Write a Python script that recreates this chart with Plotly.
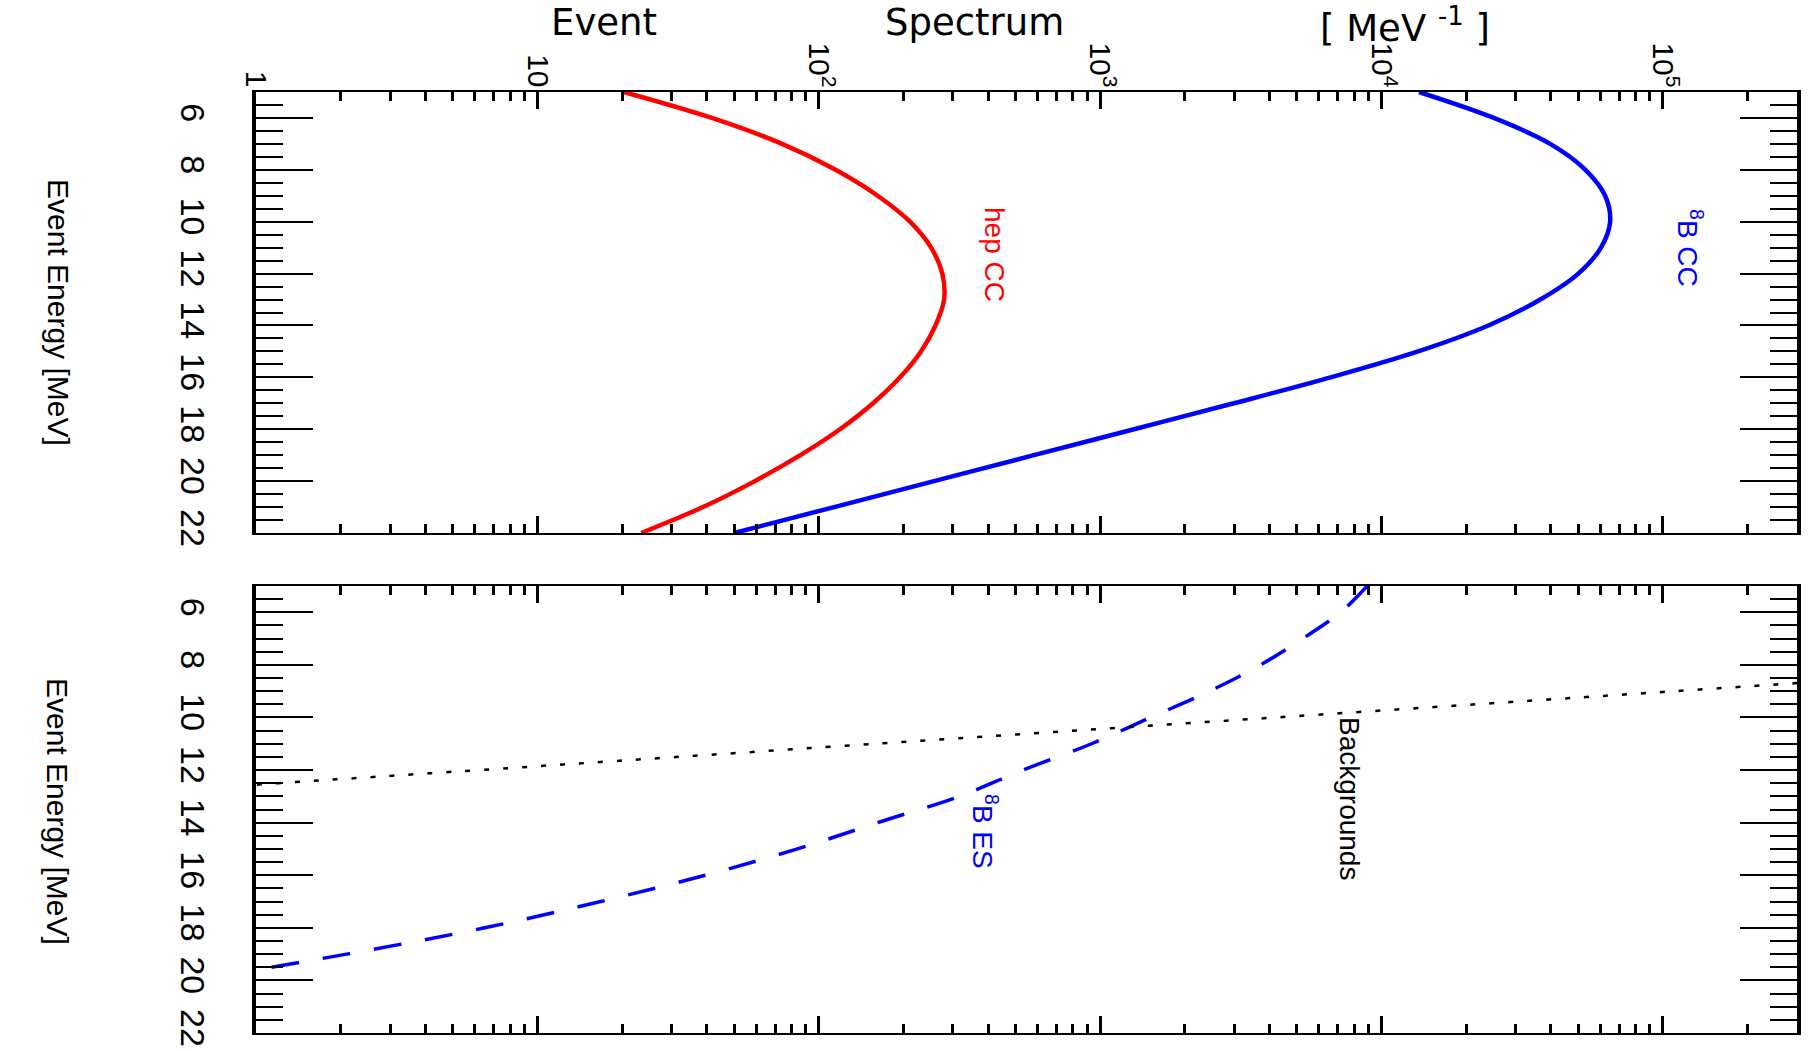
import math
import plotly.graph_objects as go

# Event energy grid [MeV]
energy = [5, 6, 7, 8, 9, 10, 11, 12, 13, 14, 15, 16, 17, 18, 19, 20, 21, 22]

# hep CC spectrum [MeV^-1]
hep_cc = [20.3, 41.7, 74.1, 114.8, 162, 211, 251, 275, 279, 260, 231, 194.5, 156, 119, 86, 59.3, 38.8, 23.4]

# 8B CC spectrum [MeV^-1]
b8_cc = [13600, 25100, 39800, 53100, 62400, 65000, 60300, 50100, 36700, 24000,
         13500, 6600, 2990, 1320, 582, 257, 113.5, 50.1]

# 8B ES spectrum [MeV^-1]
es_energy = [5, 6, 7, 8, 9, 10, 11, 12, 13, 14, 15, 16, 17, 18, 19, 20]
b8_es = [8900, 7160, 5250, 3720, 2450, 1510, 933, 532, 316, 162, 84, 39.5, 16.8, 6.5, 2.1, 0.6]

# Backgrounds [MeV^-1]
bkg_energy = [8.5, 9.0, 10.0, 11.0, 12.0, 12.5, 13.0]
bkg = [5.6e5, 1.1e5, 4200, 160, 6.2, 1.2, 0.25]

# Axis ticks
e_major = [6, 8, 10, 12, 14, 16, 18, 20, 22]
e_minor = [5.5 + 0.5 * i for i in range(33)]
s_major = [1, 10, 100, 1000, 10000, 100000]
s_major_text = ["1", "10", "10<sup>2</sup>", "10<sup>3</sup>", "10<sup>4</sup>", "10<sup>5</sup>"]
s_minor = [m * 10 ** d for d in range(6) for m in range(2, 10) if m * 10 ** d <= 3e5]

W, H = 1812, 1051
FONT = "Liberation Sans, Arial, sans-serif"
TITLE_FONT = "DejaVu Sans, Liberation Sans, Arial"

x_dom = [256 / W, 1797 / W]
top_dom = [1 - 533 / H, 1 - 92 / H]
bot_dom = [1 - 1033 / H, 1 - 586 / H]
s_range = [0, math.log10(3e5)]

fig = go.Figure()

fig.add_trace(go.Scatter(x=hep_cc, y=energy, mode="lines", xaxis="x", yaxis="y",
                         line=dict(color="#ff0000", width=4.5, shape="spline"), showlegend=False))
fig.add_trace(go.Scatter(x=b8_cc, y=energy, mode="lines", xaxis="x", yaxis="y",
                         line=dict(color="#0000ff", width=4.5, shape="spline"), showlegend=False))
fig.add_trace(go.Scatter(x=b8_es, y=es_energy, mode="lines", xaxis="x2", yaxis="y2",
                         line=dict(color="#0000ff", width=3.5, shape="spline", dash="28px,24px"),
                         showlegend=False))
fig.add_trace(go.Scatter(x=bkg, y=bkg_energy, mode="lines", xaxis="x2", yaxis="y2",
                         line=dict(color="#000000", width=2.5, shape="spline", dash="5px,14px"),
                         showlegend=False))

spec_axis = dict(
    type="log", range=s_range, domain=x_dom, automargin=False,
    tickmode="array", tickvals=s_major, ticktext=s_major_text,
    ticks="inside", ticklen=17, tickwidth=3, tickcolor="black",
    minor=dict(tickmode="array", tickvals=s_minor, ticks="inside", ticklen=9,
               tickwidth=3, tickcolor="black"),
    showline=True, linewidth=2, linecolor="black", mirror="allticks",
    showgrid=False, zeroline=False, tickangle=90,
    tickfont=dict(family=FONT, size=30, color="black"),
)
energy_axis = dict(
    range=[22, 5], automargin=False,
    tickmode="array", tickvals=e_major, ticktext=[str(v) for v in e_major],
    ticks="inside", ticklen=57, tickwidth=1.5, tickcolor="black",
    minor=dict(tickmode="array", tickvals=e_minor, ticks="inside", ticklen=27,
               tickwidth=1.5, tickcolor="black"),
    showline=True, linewidth=4, linecolor="black", mirror="allticks",
    showgrid=False, zeroline=False, tickangle=90,
    tickfont=dict(family=FONT, size=34, color="black"),
    ticklabelstandoff=30,
)

fig.update_layout(
    width=W, height=H, margin=dict(l=0, r=0, t=0, b=0),
    paper_bgcolor="white", plot_bgcolor="white",
    xaxis=dict(spec_axis, anchor="y", side="top", showticklabels=True, ticklabelstandoff=-8),
    yaxis=dict(energy_axis, domain=top_dom, anchor="x"),
    xaxis2=dict(spec_axis, anchor="y2", side="bottom", showticklabels=False),
    yaxis2=dict(energy_axis, domain=bot_dom, anchor="x2"),
)

title_font = dict(family=TITLE_FONT, size=37, color="black")
annotations = [
    dict(text="Event", x=604 / W, y=1, yanchor="top", font=title_font),
    dict(text="Spectrum", x=974 / W, y=1, yanchor="top", font=title_font),
    dict(text="[ MeV <sup>-1</sup> ]", x=1405 / W, y=1, yanchor="top", font=title_font),
    dict(text="Event Energy [MeV]", x=58 / W, y=1 - 312 / H, textangle=90,
         font=dict(family=FONT, size=30, color="black")),
    dict(text="Event Energy [MeV]", x=58 / W, y=1 - 811 / H, textangle=90,
         font=dict(family=FONT, size=30, color="black")),
    dict(text="hep CC", x=995 / W, y=1 - 254 / H, textangle=90,
         font=dict(family=FONT, size=28, color="#ff0000")),
    dict(text="<sup>8</sup>B CC", x=1690 / W, y=1 - 248 / H, textangle=90,
         font=dict(family=FONT, size=28, color="#0000ff")),
    dict(text="Backgrounds", x=1350 / W, y=1 - 798 / H, textangle=90,
         font=dict(family=FONT, size=28, color="black")),
    dict(text="<sup>8</sup>B ES", x=985 / W, y=1 - 832 / H, textangle=90,
         font=dict(family=FONT, size=28, color="#0000ff")),
]
for a in annotations:
    a.setdefault("yanchor", "middle")
    a.update(xref="paper", yref="paper", showarrow=False, xanchor="center", borderpad=0)
fig.update_layout(annotations=annotations)

fig.write_html("out.html")
